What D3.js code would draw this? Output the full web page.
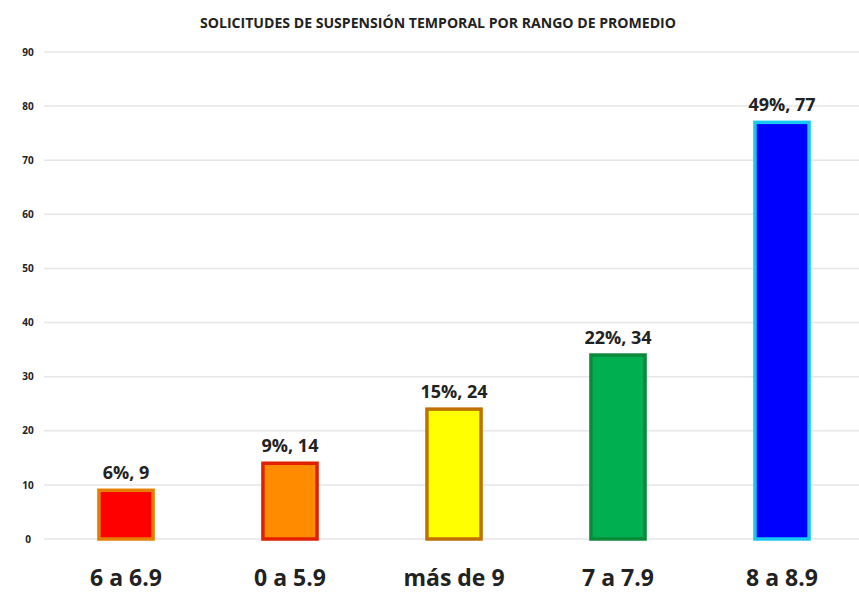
<!DOCTYPE html>
<html>
<head>
<meta charset="utf-8">
<script src="https://cdn.jsdelivr.net/npm/d3@7"></script>
<style>
  body { margin: 0; background: #fff; }
  text { font-family: "Open Sans", Roboto, sans-serif; font-weight: bold; fill: #222; }
</style>
</head>
<body>
<div id="chart"></div>
<script>
// Data
const categories = ['6 a 6.9', '0 a 5.9', 'más de 9', '7 a 7.9', '8 a 8.9'];
const counts = [9, 14, 24, 34, 77];
const percents = ['6%', '9%', '15%', '22%', '49%'];
const fills = ['#ff0000', '#ff8c00', '#ffff00', '#00b050', '#0000ff'];
const strokes = ['#e67e00', '#e02000', '#c07000', '#0b8a3c', '#19c8f0'];
const yTicks = [0, 10, 20, 30, 40, 50, 60, 70, 80, 90];

const width = 859;
const height = 592;
const margin = { top: 52, right: 0, bottom: 53, left: 44 };

const svg = d3.select('#chart')
  .append('svg')
  .attr('width', width)
  .attr('height', height);

const x = d3.scaleBand()
  .domain(categories)
  .range([margin.left, margin.left + 5 * 164])
  .paddingInner(0.67)
  .paddingOuter(0.335);

const y = d3.scaleLinear()
  .domain([0, 90])
  .range([height - margin.bottom, margin.top]);

// title
svg.append('text')
  .attr('x', 438)
  .attr('y', 28)
  .attr('text-anchor', 'middle')
  .attr('textLength', 476)
  .attr('lengthAdjust', 'spacingAndGlyphs')
  .style('font-size', '14px')
  .text('SOLICITUDES DE SUSPENSIÓN TEMPORAL POR RANGO DE PROMEDIO');

// gridlines
svg.append('g')
  .selectAll('line')
  .data(yTicks)
  .enter()
  .append('line')
  .attr('x1', margin.left)
  .attr('x2', width)
  .attr('y1', d => y(d))
  .attr('y2', d => y(d))
  .attr('stroke', '#e6e6e6')
  .attr('stroke-width', 1.5);

// y axis labels
const yAxis = svg.append('g')
  .attr('transform', `translate(${margin.left - 8}, 0)`)
  .call(d3.axisLeft(y).tickValues(yTicks).tickSize(0).tickPadding(0));
yAxis.select('.domain').remove();
yAxis.selectAll('text')
  .attr('text-anchor', 'middle')
  .attr('dx', -8)
  .style('font-size', '10px')
  .style('font-family', '"Open Sans", sans-serif')
  .attr('fill', '#333');

// bars
svg.append('g')
  .selectAll('rect')
  .data(categories)
  .enter()
  .append('rect')
  .attr('x', d => x(d))
  .attr('y', (d, i) => y(counts[i]))
  .attr('width', x.bandwidth())
  .attr('height', (d, i) => y(0) - y(counts[i]))
  .attr('fill', (d, i) => fills[i])
  .attr('stroke', (d, i) => strokes[i])
  .attr('stroke-width', 3.5);

// value labels
svg.append('g')
  .selectAll('text')
  .data(categories)
  .enter()
  .append('text')
  .attr('x', d => x(d) + x.bandwidth() / 2)
  .attr('y', (d, i) => y(counts[i]) - 11)
  .attr('text-anchor', 'middle')
  .style('font-size', '18px')
  .text((d, i) => `${percents[i]}, ${counts[i]}`);

// x axis labels
const xAxis = svg.append('g')
  .attr('transform', `translate(0, ${y(0)})`)
  .call(d3.axisBottom(x).tickSize(0).tickPadding(0));
xAxis.select('.domain').remove();
xAxis.selectAll('text')
  .attr('dy', 47)
  .style('font-size', '23px')
  .attr('fill', '#222');
</script>
</body>
</html>
